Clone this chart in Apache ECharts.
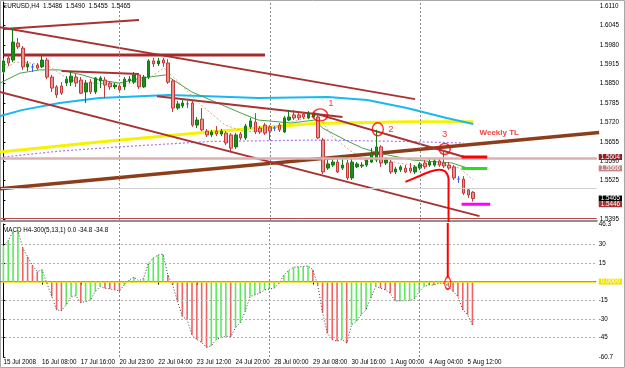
<!DOCTYPE html>
<html>
<head>
<meta charset="utf-8">
<script src="https://cdn.jsdelivr.net/npm/echarts@6/dist/echarts.min.js"></script>
<style>
html, body { margin: 0; padding: 0; background: #fff; }
#chart { width: 625px; height: 368px; }
</style>
</head>
<body>
<div id="chart"></div>
<script>
// EURUSD H4, 15 Jul - 5 Aug 2008 (MetaTrader screenshot)
var barCount = 123; // 98 bars + empty shift area on the right

var timeTicks = [
  [0, '15 Jul 2008'], [8, '16 Jul 08:00'], [16, '17 Jul 16:00'], [24, '20 Jul 23:00'],
  [32, '22 Jul 04:00'], [40, '23 Jul 12:00'], [48, '24 Jul 20:00'], [56, '28 Jul 00:00'],
  [64, '29 Jul 08:00'], [72, '30 Jul 16:00'], [80, '1 Aug 00:00'], [88, '4 Aug 04:00'],
  [96, '5 Aug 12:00']
];

// [open, close, low, high]
var candles = [
  [1.5889, 1.5926, 1.5882, 1.5936], [1.5936, 1.5919, 1.5909, 1.5946], [1.5929, 1.5989, 1.5922, 1.6036],
  [1.5986, 1.5973, 1.5966, 1.6003], [1.5969, 1.5906, 1.5896, 1.5976], [1.5906, 1.5916, 1.5892, 1.5926],
  [1.5906, 1.5906, 1.5889, 1.5916], [1.5912, 1.5902, 1.5896, 1.5919], [1.5906, 1.5929, 1.5902, 1.5946],
  [1.5929, 1.5872, 1.5865, 1.5936], [1.5872, 1.5835, 1.5822, 1.5879], [1.5839, 1.5812, 1.5802, 1.5845],
  [1.5842, 1.5818, 1.5812, 1.5855], [1.5852, 1.5865, 1.5842, 1.5875], [1.5855, 1.5875, 1.5842, 1.5889],
  [1.5872, 1.5852, 1.5839, 1.5882], [1.5862, 1.5818, 1.5815, 1.5872], [1.5822, 1.5852, 1.5785, 1.5862],
  [1.5855, 1.5822, 1.5815, 1.5865], [1.5822, 1.5869, 1.5815, 1.5872], [1.5859, 1.5869, 1.5835, 1.5875],
  [1.5862, 1.5845, 1.5802, 1.5872], [1.5852, 1.5839, 1.5829, 1.5859], [1.5839, 1.5845, 1.5832, 1.5852],
  [1.5842, 1.5829, 1.5822, 1.5849], [1.5839, 1.5865, 1.5829, 1.5872], [1.5859, 1.5865, 1.5852, 1.5875],
  [1.5855, 1.5879, 1.5849, 1.5889], [1.5879, 1.5839, 1.5832, 1.5885], [1.5839, 1.5872, 1.5835, 1.5879],
  [1.5872, 1.5926, 1.5865, 1.5932], [1.5926, 1.5916, 1.5906, 1.5936], [1.5916, 1.5926, 1.5909, 1.5936],
  [1.5929, 1.5919, 1.5906, 1.5936], [1.5919, 1.5855, 1.5849, 1.5932], [1.5859, 1.5768, 1.5755, 1.5865],
  [1.5768, 1.5782, 1.5762, 1.5792], [1.5775, 1.5785, 1.5768, 1.5795], [1.5782, 1.5782, 1.5768, 1.5792],
  [1.5785, 1.5711, 1.5705, 1.5792], [1.5711, 1.5728, 1.5701, 1.5738], [1.5731, 1.5695, 1.5691, 1.5768],
  [1.5691, 1.5678, 1.5671, 1.5698], [1.5678, 1.5688, 1.5671, 1.5695], [1.5691, 1.5681, 1.5674, 1.5708],
  [1.5681, 1.5691, 1.5674, 1.5698], [1.5684, 1.5651, 1.5644, 1.5691], [1.5678, 1.5634, 1.5621, 1.5684],
  [1.5638, 1.5678, 1.5631, 1.5684], [1.5681, 1.5668, 1.5661, 1.5688], [1.5668, 1.5708, 1.5661, 1.5715],
  [1.5705, 1.5725, 1.5698, 1.5735], [1.5721, 1.5688, 1.5681, 1.5751], [1.5701, 1.5688, 1.5681, 1.5708],
  [1.5711, 1.5684, 1.5678, 1.5718], [1.5705, 1.5691, 1.5661, 1.5711], [1.5701, 1.5701, 1.5691, 1.5708],
  [1.5711, 1.5695, 1.5688, 1.5718], [1.5688, 1.5735, 1.5684, 1.5741], [1.5728, 1.5738, 1.5725, 1.5762],
  [1.5745, 1.5735, 1.5728, 1.5762], [1.5745, 1.5735, 1.5728, 1.5751], [1.5748, 1.5738, 1.5731, 1.5755],
  [1.5735, 1.5751, 1.5731, 1.5758], [1.5738, 1.5748, 1.5735, 1.5755], [1.5738, 1.5668, 1.5664, 1.5751],
  [1.5661, 1.5554, 1.5547, 1.5668], [1.5567, 1.5581, 1.5561, 1.5594], [1.5577, 1.5587, 1.5571, 1.5597],
  [1.5587, 1.5554, 1.5550, 1.5601], [1.5567, 1.5577, 1.5561, 1.5611], [1.5584, 1.5534, 1.5527, 1.5594],
  [1.5534, 1.5587, 1.5527, 1.5601], [1.5571, 1.5581, 1.5567, 1.5587], [1.5574, 1.5577, 1.5567, 1.5587],
  [1.5577, 1.5594, 1.5571, 1.5601], [1.5587, 1.5617, 1.5584, 1.5634], [1.5594, 1.5638, 1.5587, 1.5695],
  [1.5638, 1.5584, 1.5571, 1.5644], [1.5584, 1.5594, 1.5577, 1.5604], [1.5587, 1.5554, 1.5547, 1.5594],
  [1.5554, 1.5564, 1.5547, 1.5571], [1.5561, 1.5571, 1.5554, 1.5577], [1.5567, 1.5554, 1.5550, 1.5577],
  [1.5567, 1.5557, 1.5550, 1.5584], [1.5554, 1.5571, 1.5547, 1.5577], [1.5567, 1.5581, 1.5561, 1.5587],
  [1.5584, 1.5571, 1.5564, 1.5594], [1.5577, 1.5587, 1.5571, 1.5597], [1.5577, 1.5591, 1.5571, 1.5601],
  [1.5591, 1.5577, 1.5571, 1.5601], [1.5584, 1.5574, 1.5567, 1.5628], [1.5577, 1.5567, 1.5561, 1.5587],
  [1.5571, 1.5534, 1.5527, 1.5577], [1.5530, 1.5530, 1.5517, 1.5540], [1.5530, 1.5483, 1.5477, 1.5540],
  [1.5494, 1.5477, 1.5467, 1.5500], [1.5486, 1.5465, 1.5455, 1.5490]
];

// MACD(5,13,1) histogram
var macd = [
  29, 33, 40, 41, 27, 20, 13, 8, 9.4, -1.5,
  -12, -22.7, -23.5, -18.7, -12, -11.5, -17, -16, -14.7, -8,
  -4, -5.4, -6, -6.7, -7.5, -2.7, 1.3, 3.5, 0.5, 2.7,
  14.7, 19, 21.4, 22, 5.3, -2.7, -16, -28, -30.8, -42.8,
  -46.7, -49, -53, -51.7, -46.7, -45, -44, -44.5, -37, -33,
  -24, -12, -10.7, -9.4, -6.7, -6, -5.3, -1.3, 5.3, 8.8,
  11.5, 11.8, 12, 12.6, 9.4, -2.7, -25, -41.5, -46.7, -48,
  -46.7, -49.5, -34.8, -32, -26.7, -22.7, -13, -4, -5.3, -6.7,
  -9.4, -15.7, -15.5, -15.4, -15.3, -14, -8, -4, -2.7, -2.8,
  -1.3, -1.5, -3.5, -8, -12, -22.7, -26.7, -34.8
];

// moving averages, read as [bar, price] points
var maYellow = [[-0.7, 1.5621], [20.8, 1.5656], [42.4, 1.5688], [63.9, 1.5716], [83.3, 1.5722], [97, 1.5722]];
var maBlue = [[-0.7, 1.5741], [4, 1.5762], [11.6, 1.5785], [19.8, 1.5802], [34.2, 1.5812], [42.4, 1.5808],
  [52.6, 1.5802], [67, 1.5805], [75.1, 1.5795], [83.3, 1.5768], [91.5, 1.5735], [97, 1.5715]];
var maGreen = [[-0.7, 1.5852], [3.4, 1.5885], [7.5, 1.5896], [11.6, 1.5896], [16.3, 1.5879], [19.8, 1.5862],
  [23.9, 1.5852], [28.6, 1.5869], [33.5, 1.5879], [38.9, 1.5822], [43.8, 1.5788], [49.1, 1.5751],
  [52.6, 1.5728], [59.4, 1.5718], [64.3, 1.5728], [65.9, 1.5701], [70.6, 1.5661], [74.1, 1.5634],
  [77.6, 1.5617], [84.4, 1.5594], [92.6, 1.5584], [97, 1.5561]];
var maPurple = [[0, 1.5604], [11.6, 1.5624], [23.9, 1.5638], [42.4, 1.5656], [64.9, 1.5661], [83.3, 1.5656], [95, 1.5651]];
var maTan = [[0, 1.5896], [2.4, 1.5922], [5.5, 1.5919], [9.6, 1.5906], [13.7, 1.5862], [17.8, 1.5852],
  [21.9, 1.5849], [26, 1.5849], [30.1, 1.5869], [33.1, 1.5902], [36.2, 1.5855], [40.3, 1.5785],
  [45.8, 1.5711], [49.9, 1.5688], [54.6, 1.5695], [59.4, 1.5721], [64.9, 1.5745], [68, 1.5671],
  [71.4, 1.5628], [75.1, 1.5587], [78.2, 1.5601], [81.3, 1.5584], [85.4, 1.5574], [90.5, 1.5581],
  [94.2, 1.5567], [97, 1.5527]];

// hand drawn objects, [bar, price]
var lineTopShort = [[0, 1.6033], [28, 1.6063]];
var lineUpperChannel = [[-1, 1.6040], [85, 1.5798]];
var lineFlat = [[0, 1.5946], [54, 1.5946]];
var lineFlatShort = [[12, 1.5892], [28, 1.5882]];
var lineLowerChannel = [[-1, 1.5823], [98.3, 1.5406]];
var lineHighs = [[31.7, 1.5808], [70, 1.5738]];
var lineFromOne = [[64.1, 1.5751], [95.2, 1.5604]];
var weeklyTL = [[-1, 1.5497], [123, 1.5686]];
var redCup = [[83, 1.5521], [85.4, 1.5537], [87.9, 1.5554], [89.9, 1.5561], [91.1, 1.5557], [91.6, 1.5547], [91.9, 1.5534]];
var dropBar = 91.9;
var markRed = [[94.6, 1.5604], [99.9, 1.5604]];
var markGreen = [[94.6, 1.5566], [99.9, 1.5566]];
var markMagenta = [[94.6, 1.5446], [100.5, 1.5446]];
var circles = [[65.4, 1.5745], [77.3, 1.5697], [91.1, 1.5631]];
var circleNotes = [[67.6, 1.5784, '1'], [80, 1.5698, '2'], [91.1, 1.5680, '3']];
var weeklyNote = [[98.3, 1.5684, 'Weekly TL']];
var macdCircle = [[91.9, -1.3]];

var priceTicks = [1.6110, 1.6045, 1.5980, 1.5915, 1.5850, 1.5785, 1.5720, 1.5655, 1.5590, 1.5525, 1.5460, 1.5395];
var levelTicks = [1.5604, 1.5566, 1.5465];
var lowLevelTicks = [1.5446];
var macdTicks = [46.3, 30, 15, 0, -15, -30, -45, -60.7];
var macdGridLines = [30, 15, -15, -30, -45];
var gridBars = [24, 55, 86];

var font = 'Liberation Sans, Arial, sans-serif';
var priceMin = 1.53897, priceMax = 1.61234;

var cats = [];
for (var i = 0; i < barCount; i++) cats.push(String(i));
var tickLabel = {};
timeTicks.forEach(function (t) { tickLabel[t[0]] = t[1]; });

function seg(data, color, width, extra) {
  var s = {
    type: 'line', xAxisIndex: 1, yAxisIndex: 0, data: data,
    symbol: 'none', silent: true, animation: false,
    lineStyle: { color: color, width: width }
  };
  for (var k in extra) s[k] = extra[k];
  return s;
}

var macdBars = macd.map(function (v, i) {
  var up = i === 0 || v >= macd[i - 1];
  return { value: v, itemStyle: { color: up ? '#5fe85f' : '#f06464' } };
});

var vLines = gridBars.map(function (b) { return { xAxis: b }; });
var dashed = { color: '#8a8a8a', width: 1, type: [2, 2] };

var levelStyle = ['a', 'b', 'c'];
var boxPad = [0, 2, 0, 2];

function levelAxis(values, styles, rich) {
  return { type: 'value', gridIndex: 0, position: 'right', min: priceMin, max: priceMax, scale: true,
    splitLine: { show: false }, axisLine: { show: false }, axisTick: { show: false },
    axisLabel: { customValues: values, margin: 2, hideOverlap: false,
      formatter: function (v) {
        var k = values.indexOf(+v.toFixed(4));
        return '{' + (styles[k] || styles[0]) + '|' + v.toFixed(4) + '}';
      },
      rich: rich } };
}

var richBoxes = {
  a: { fontSize: 6.3, lineHeight: 7, color: '#fff', backgroundColor: '#8e1f1f', padding: boxPad },
  b: { fontSize: 6.3, lineHeight: 7, color: '#fff', backgroundColor: '#c28585', padding: boxPad },
  c: { fontSize: 6.3, lineHeight: 7, color: '#fff', backgroundColor: '#000', padding: boxPad },
  d: { fontSize: 6.3, lineHeight: 7, color: '#fff', backgroundColor: '#a83030', padding: boxPad }
};

var chart = echarts.init(document.getElementById('chart'));
chart.setOption({
  animation: false,
  backgroundColor: '#fff',
  textStyle: { fontFamily: font },
  grid: [
    { left: 1, right: 25, top: 2, height: 219 },
    { left: 1, right: 25, top: 224, height: 133 }
  ],
  xAxis: [
    { type: 'category', gridIndex: 0, data: cats, boundaryGap: true,
      axisLine: { lineStyle: { color: '#909090', width: 2 } }, axisTick: { show: false }, axisLabel: { show: false } },
    { type: 'value', gridIndex: 0, min: -0.5, max: barCount - 0.5, show: false },
    { type: 'category', gridIndex: 1, data: cats, boundaryGap: true,
      axisLine: { lineStyle: { color: '#000', width: 1 } },
      axisTick: { show: true, length: 3, alignWithLabel: true, lineStyle: { color: '#000' },
        interval: function (idx) { return tickLabel[idx] !== undefined; } },
      axisLabel: { fontSize: 6.3, color: '#000', margin: 2, align: 'left', hideOverlap: false,
        interval: function (idx) { return tickLabel[idx] !== undefined; },
        formatter: function (v) { return tickLabel[+v] || ''; } } },
    { type: 'value', gridIndex: 1, min: -0.5, max: barCount - 0.5, show: false }
  ],
  yAxis: [
    { type: 'value', gridIndex: 0, position: 'right', min: priceMin, max: priceMax, scale: true,
      splitLine: { show: false },
      axisLine: { show: true, lineStyle: { color: '#000' } },
      axisTick: { show: true, length: 2, customValues: priceTicks, lineStyle: { color: '#000' } },
      axisLabel: { customValues: priceTicks, fontSize: 6.3, color: '#000', margin: 3, hideOverlap: false,
        formatter: function (v) { return v.toFixed(4); } } },
    levelAxis(levelTicks, levelStyle, richBoxes),
    { type: 'value', gridIndex: 1, position: 'right', min: -60.7, max: 46.3,
      splitLine: { show: false },
      axisLine: { show: true, lineStyle: { color: '#000' } },
      axisTick: { show: true, length: 2, customValues: macdTicks, lineStyle: { color: '#000' } },
      axisLabel: { customValues: macdTicks, fontSize: 6.3, color: '#000', margin: 3, hideOverlap: false,
        formatter: function (v) { return v === 0 ? '{z|0.0000}' : String(v); },
        rich: { z: { fontSize: 6.3, lineHeight: 7, color: '#fff', backgroundColor: '#f2e200', padding: boxPad } } } },
    levelAxis(lowLevelTicks, ['d'], richBoxes)
  ],
  graphic: [
    { type: 'text', left: 3, top: 3, style: { text: 'EURUSD,H4  1.5486  1.5490  1.5455  1.5465', font: '6.3px ' + font, fill: '#000' } },
    { type: 'text', left: 3, top: 227, style: { text: 'MACD H4-300(5,13,1) 0.0 -34.8 -34.8', font: '6.3px ' + font, fill: '#000' } },
    { type: 'rect', shape: { x: 0.5, y: 0.5, width: 624, height: 367 }, style: { fill: 'none', stroke: '#a8a8a8', lineWidth: 1 }, silent: true }
  ],
  series: [
    // grid + horizontal levels
    seg([], '#000', 1, { z: 1, markLine: { silent: true, symbol: 'none', label: { show: false },
      data: vLines.map(function (d) { return { xAxis: d.xAxis, lineStyle: dashed }; }).concat([
        { yAxis: 1.5604, lineStyle: { color: '#c04848', width: 1, type: 'solid' } },
        { yAxis: 1.5566, lineStyle: { color: '#dcb0b0', width: 2.5, type: 'solid' } },
        { yAxis: 1.5465, lineStyle: { color: '#d0d0d0', width: 1, type: 'solid' } },
        { yAxis: 1.5446, lineStyle: { color: '#c04848', width: 1, type: 'solid' } }
      ]) } }),
    seg(maYellow, '#f4f400', 3, { z: 2 }),
    seg(maPurple, '#a27af0', 1.2, { z: 2, lineStyle: { color: '#a27af0', width: 1.2, type: [2, 2] } }),
    seg(maBlue, '#1ab8f0', 2, { z: 2 }),
    seg(maGreen, '#4aa04a', 1, { z: 2 }),
    seg(maTan, '#d9a48c', 1, { z: 2, lineStyle: { color: '#d9a48c', width: 1, type: [2, 2] } }),
    seg(weeklyTL, '#8c3e1c', 3.5, { z: 3 }),
    seg(lineTopShort, '#a83232', 2, { z: 3 }),
    seg(lineUpperChannel, '#a83232', 2, { z: 3 }),
    seg(lineFlat, '#a52a2a', 3, { z: 3 }),
    seg(lineFlatShort, '#a83232', 2, { z: 3 }),
    seg(lineLowerChannel, '#a83232', 2, { z: 3 }),
    seg(lineHighs, '#a83232', 2, { z: 3 }),
    seg(lineFromOne, '#a83232', 2, { z: 3 }),
    {
      type: 'candlestick', xAxisIndex: 0, yAxisIndex: 0, data: candles, barWidth: 3, z: 4,
      itemStyle: { color: '#1c8c1c', color0: '#eb9090', borderColor: '#137a13', borderColor0: '#c23a3a',
        borderColorDoji: '#3a5cff', borderWidth: 1 }
    },
    seg(markRed, '#ff0000', 3, { z: 5 }),
    seg(markGreen, '#22e022', 3, { z: 5 }),
    seg(markMagenta, '#ff00ff', 3, { z: 5 }),
    seg(redCup, '#ff0000', 2, { z: 5, smooth: 0.4 }),
    seg([[dropBar, redCup[redCup.length - 1][1]], [dropBar, 1.50]], '#ff0000', 2, { z: 5 }),
    { type: 'scatter', xAxisIndex: 1, yAxisIndex: 0, z: 6, silent: true,
      data: circles.map(function (c, k) { return { value: c, symbolSize: [[15, 12], [11, 13], [11, 11]][k] }; }),
      symbol: 'circle', itemStyle: { color: 'rgba(0,0,0,0)', borderColor: '#ff0000', borderWidth: 1.5 } },
    { type: 'scatter', xAxisIndex: 1, yAxisIndex: 0, z: 6, silent: true, symbolSize: 0,
      data: circleNotes,
      label: { show: true, position: 'inside', formatter: function (p) { return p.value[2]; },
        fontSize: 9.5, color: '#ff0000', fontFamily: font } },
    { type: 'scatter', xAxisIndex: 1, yAxisIndex: 0, z: 6, silent: true, symbolSize: 0,
      data: weeklyNote,
      label: { show: true, position: 'right', distance: 0, formatter: function (p) { return p.value[2]; },
        fontSize: 8, fontWeight: 'bold', color: '#ee1010', fontFamily: font } },

    // MACD pane
    {
      type: 'line', xAxisIndex: 3, yAxisIndex: 2, data: [], symbol: 'none', silent: true, z: 1,
      markLine: { silent: true, symbol: 'none', label: { show: false },
        data: vLines.map(function (d) { return { xAxis: d.xAxis, lineStyle: dashed }; })
          .concat(macdGridLines.map(function (v) { return { yAxis: v, lineStyle: { color: '#b0b0b0', width: 1, type: [2, 2] } }; })) }
    },
    {
      type: 'bar', xAxisIndex: 2, yAxisIndex: 2, data: macdBars, barWidth: 1.6, z: 2, silent: true
    },
    {
      type: 'line', xAxisIndex: 2, yAxisIndex: 2, data: macd, symbol: 'none', silent: true, z: 3,
      lineStyle: { color: '#404040', width: 1, type: [1, 2] }
    },
    {
      type: 'line', xAxisIndex: 3, yAxisIndex: 2, data: [], symbol: 'none', silent: true, z: 3,
      markLine: { silent: true, symbol: 'none', label: { show: false },
        data: [{ yAxis: 0, lineStyle: { color: '#f2e200', width: 1.5, type: 'solid' } }] }
    },
    {
      type: 'line', xAxisIndex: 3, yAxisIndex: 2, data: [[dropBar, 50], [dropBar, 3.6]], symbol: 'none', silent: true, z: 5,
      lineStyle: { color: '#ff0000', width: 2 }
    },
    { type: 'scatter', xAxisIndex: 3, yAxisIndex: 2, z: 6, silent: true, data: macdCircle, symbol: 'circle',
      symbolSize: [6, 12], itemStyle: { color: 'rgba(0,0,0,0)', borderColor: '#ff0000', borderWidth: 1.5 } }
  ]
});
</script>
</body>
</html>
